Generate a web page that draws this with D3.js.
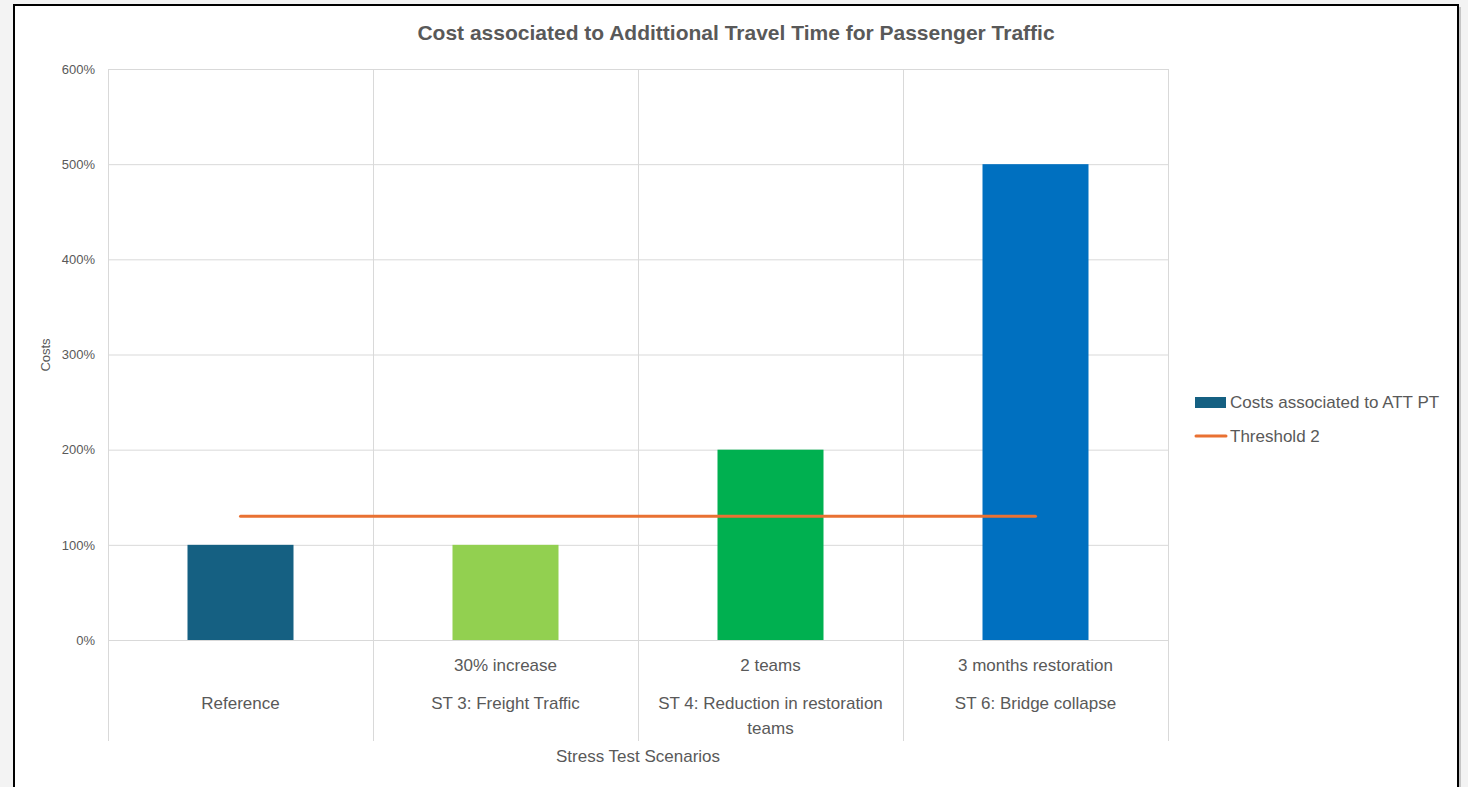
<!DOCTYPE html>
<html><head><meta charset="utf-8">
<script src="https://cdn.jsdelivr.net/npm/d3@7"></script>
<style>
html,body{margin:0;padding:0;background:#f3f3f3;}
svg{display:block;}
</style></head>
<body>
<svg id="chart" width="1468" height="787"></svg>
<script>
const categories = ["Reference", "ST 3: Freight Traffic", "ST 4: Reduction in restoration teams", "ST 6: Bridge collapse"];
const subLabels = ["", "30% increase", "2 teams", "3 months restoration"];
const costValues = [1.0, 1.0, 2.0, 5.0];
const barColors = ["#156082", "#92D050", "#00B050", "#0070C0"];
const thresholdValues = [1.3, 1.3, 1.3, 1.3];
const yTicks = [0, 1, 2, 3, 4, 5, 6];

const svg = d3.select("#chart");
const narrow = "'Liberation Sans', Arial, sans-serif";
const sans = "'Liberation Sans', Arial, sans-serif";

// frame
svg.append("rect").attr("x", 16).attr("y", 7).attr("width", 1445).attr("height", 800).attr("fill", "#9a9a9a").attr("opacity", 0.5);
svg.append("rect").attr("x", 14).attr("y", 5).attr("width", 1444).attr("height", 800).attr("fill", "#fff").attr("stroke", "#000").attr("stroke-width", 2);

const m = {left: 108, right: 1168, top: 69, bottom: 640};
const x = d3.scaleBand().domain(categories).range([m.left, m.right]).paddingInner(0).paddingOuter(0);
const y = d3.scaleLinear().domain([0, 6]).range([m.bottom, m.top]);

// horizontal grid
svg.append("g").selectAll("line").data(yTicks).join("line")
  .attr("x1", m.left).attr("x2", m.right)
  .attr("y1", d => y(d) + 0.5).attr("y2", d => y(d) + 0.5)
  .attr("stroke", "#d9d9d9").attr("stroke-width", 1);

// vertical category dividers extending below axis
const bounds = categories.map(c => x(c)).concat([m.right]);
svg.append("g").selectAll("line").data(bounds).join("line")
  .attr("x1", d => d + 0.5).attr("x2", d => d + 0.5)
  .attr("y1", m.top).attr("y2", 741)
  .attr("stroke", "#d9d9d9").attr("stroke-width", 1);

// bars
const bw = x.bandwidth() * 0.4;
svg.append("g").selectAll("rect").data(categories).join("rect")
  .attr("x", (d) => x(d) + x.bandwidth() / 2 - bw / 2)
  .attr("width", bw)
  .attr("y", (d, i) => y(costValues[i]))
  .attr("height", (d, i) => y(0) - y(costValues[i]))
  .attr("fill", (d, i) => barColors[i]);

// threshold line
const line = d3.line().x((d, i) => x(categories[i]) + x.bandwidth() / 2).y(d => y(d));
svg.append("path").datum(thresholdValues).attr("d", line)
  .attr("fill", "none").attr("stroke", "#E97132").attr("stroke-width", 3).attr("stroke-linecap", "round");

// y axis labels
const yAxis = d3.axisLeft(y).tickValues(yTicks).tickFormat(d => d3.format(".0%")(d)).tickSize(0).tickPadding(13);
const ya = svg.append("g").attr("transform", `translate(${m.left},0)`).call(yAxis);
ya.select(".domain").remove();
ya.selectAll("text").attr("fill", "#595959").style("font-family", sans).style("font-size", "13px");

// x sub labels
svg.append("g").selectAll("text").data(categories).join("text")
  .attr("x", d => x(d) + x.bandwidth() / 2).attr("y", 671)
  .attr("text-anchor", "middle").attr("fill", "#595959")
  .style("font-family", narrow).style("font-size", "17px")
  .text((d, i) => subLabels[i]);

// x main labels (with wrap)
const mainG = svg.append("g");
categories.forEach((c, i) => {
  const cx = x(c) + x.bandwidth() / 2;
  const lines = c === "ST 4: Reduction in restoration teams" ? ["ST 4: Reduction in restoration", "teams"] : [c];
  lines.forEach((t, j) => {
    mainG.append("text").attr("x", cx).attr("y", 709 + j * 25)
      .attr("text-anchor", "middle").attr("fill", "#595959")
      .style("font-family", narrow).style("font-size", "17px").text(t);
  });
});

// axis titles
svg.append("text").attr("x", 638).attr("y", 762).attr("text-anchor", "middle")
  .attr("fill", "#595959").style("font-family", narrow).style("font-size", "17px").text("Stress Test Scenarios");
svg.append("text").attr("transform", "translate(50,355) rotate(-90)").attr("text-anchor", "middle")
  .attr("fill", "#595959").style("font-family", sans).style("font-size", "13px").text("Costs");

// title
svg.append("text").attr("x", 736).attr("y", 40).attr("text-anchor", "middle")
  .attr("fill", "#595959").style("font-family", narrow).style("font-size", "21px").style("font-weight", "bold")
  .text("Cost associated to Addittional Travel Time for Passenger Traffic");

// legend
const lg = svg.append("g");
lg.append("rect").attr("x", 1195).attr("y", 397).attr("width", 31).attr("height", 11).attr("fill", barColors[0]);
lg.append("text").attr("x", 1230).attr("y", 408).attr("fill", "#595959").style("font-family", narrow).style("font-size", "17px").text("Costs associated to ATT PT");
lg.append("line").attr("x1", 1196).attr("x2", 1226).attr("y1", 436).attr("y2", 436).attr("stroke", "#E97132").attr("stroke-width", 3).attr("stroke-linecap", "round");
lg.append("text").attr("x", 1230).attr("y", 442).attr("fill", "#595959").style("font-family", narrow).style("font-size", "17px").text("Threshold 2");
</script>
</body></html>
